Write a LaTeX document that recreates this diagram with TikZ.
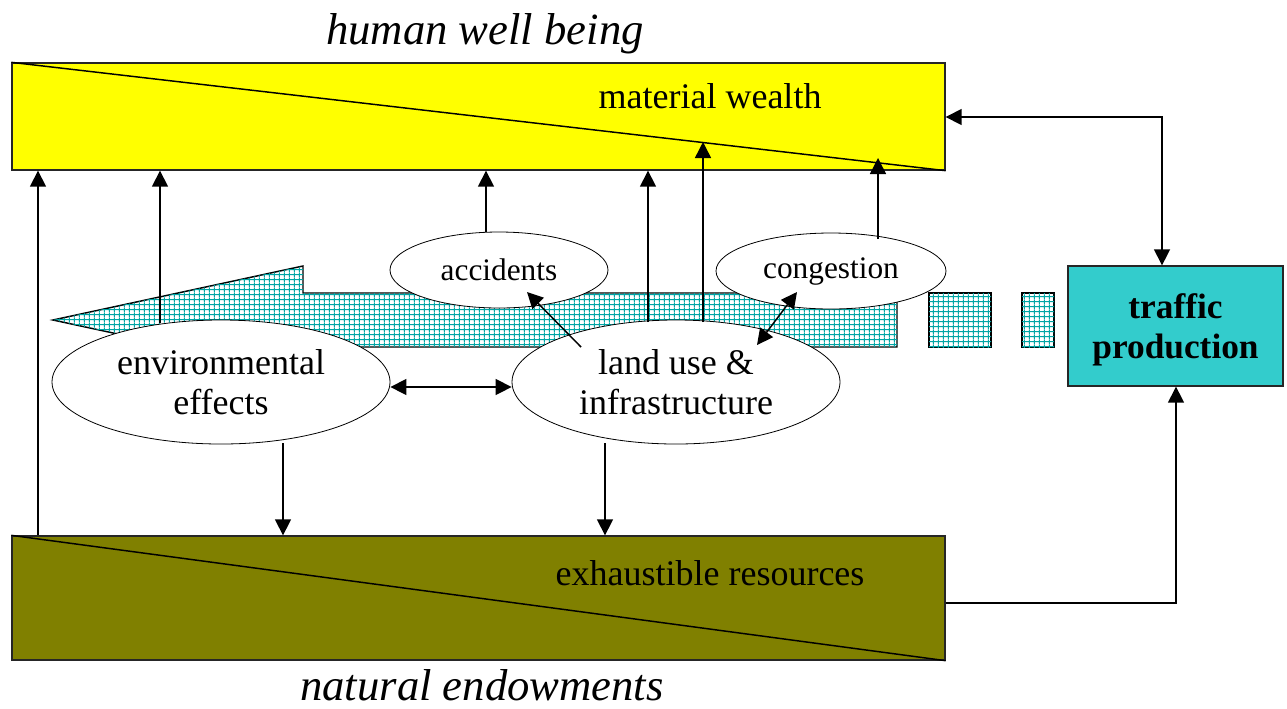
\documentclass[tikz,border=0pt]{standalone}
\usepackage{fontspec}
\setmainfont{Liberation Serif}
\usetikzlibrary{arrows.meta,shapes.geometric,patterns.meta}
\definecolor{wealthyellow}{RGB}{255,255,0}
\definecolor{endowolive}{RGB}{128,128,0}
\definecolor{traffcyan}{RGB}{51,204,204}
\definecolor{gridteal}{RGB}{0,165,165}
\tikzdeclarepattern{
  name=tgrid,
  type=colored,
  bottom left={(0pt,0pt)},
  top right={(3.6pt,3.6pt)},
  tile size={(3.6pt,3.6pt)},
  code={
    \draw[gridteal,line width=0.8pt] (0pt,1.8pt) -- (3.6pt,1.8pt) (1.8pt,0pt) -- (1.8pt,3.6pt);
  }
}
\tikzset{
  arr/.style={line width=1.1pt,-{Triangle[length=12pt,width=12pt]}},
  darr/.style={line width=1.1pt,{Triangle[length=12pt,width=12pt]}-{Triangle[length=12pt,width=12pt]}},
  bigbox/.style={rectangle,draw=black!85,line width=1pt,inner sep=0pt},
  ell/.style={ellipse,draw,fill=white,line width=0.6pt,inner sep=0pt,align=center},
  gridshape/.style={fill=white,postaction={pattern=tgrid},draw,line width=1.1pt},
  txt27/.style={font=\fontsize{27}{30}\selectfont},
  txt23/.style={font=\fontsize{23.5}{26}\selectfont},
  ttl/.style={font=\fontsize{33.5}{36}\selectfont\itshape,inner sep=0pt},
}
\begin{document}
\begin{tikzpicture}[x=0.75pt,y=-0.75pt]
\useasboundingbox (0,0) rectangle (1287,708);

% titles
\node[ttl] (hwb) at (485,34) {human well being};
\node[ttl,anchor=base,text depth=0pt] (ne) at (482,700) {natural endowments};

% big boxes
\node[bigbox,fill=wealthyellow,minimum width=699.75pt,minimum height=80.25pt] (wealth) at (478.5,116.5) {};
\draw[line width=1.1pt] (wealth.north west) -- (wealth.south east);
\node[txt27] (wealthlbl) at (710,96) {material wealth};

\node[bigbox,fill=endowolive,minimum width=699.75pt,minimum height=93pt] (res) at (478.5,598) {};
\draw[line width=1.1pt] (res.north west) -- (res.south east);
\node[txt27] (reslbl) at (710,573) {exhaustible resources};

\node[bigbox,fill=traffcyan,minimum width=161.25pt,minimum height=90pt] (traffic) at (1175.5,326) {};
\node[align=center,font=\fontsize{26.5}{30}\selectfont\bfseries] (trafficlbl) at (1175.5,330) {traffic\\production};

% hatched arrow and blocks
\draw[gridshape] (53,320) -- (303,266) -- (303,293) -- (897,293) -- (897,347) -- (303,347) -- (303,374) -- cycle;
\draw[gridshape] (929,293) rectangle (991,347);
\draw[gridshape] (1022,293) rectangle (1054,347);

% ellipses
\node[ell,txt27,minimum width=253.5pt,minimum height=93pt] (env) at (221,382) {environmental\\effects};
\node[ell,txt27,minimum width=246pt,minimum height=93pt] (land) at (676,382) {land use \&\\infrastructure};
\node[ell,txt23,minimum width=163.5pt,minimum height=57pt] (acc) at (499,270) {accidents};
\node[ell,txt23,minimum width=172.5pt,minimum height=57pt] (cong) at (831,271) {congestion};

% upward arrows to material wealth
\draw[arr] (res.north -| 38,0) -- (wealth.south -| 38,0);
\coordinate (envtop) at (160,323);
\draw[arr] (envtop) -- (wealth.south -| 160,0);
\draw[arr] (acc.north -| 486,0) -- (wealth.south -| 486,0);
\coordinate (landtopa) at (648,322);
\draw[arr] (landtopa) -- (wealth.south -| 648,0);
\coordinate (landtopb) at (703,322);
\coordinate (diagA) at (703,142);
\draw[arr] (landtopb) -- (diagA);
\coordinate (congtop) at (878,239);
\coordinate (diagB) at (878,158);
\draw[arr] (congtop) -- (diagB);

% links between ellipses
\draw[darr] (env.east |- 0,387) -- (land.west |- 0,387);
\coordinate (landacc) at (581,347);
\coordinate (acctip) at (527,292);
\draw[arr] (landacc) -- (acctip);
\coordinate (landcong) at (757,345);
\coordinate (congbot) at (797,292);
\draw[darr] (landcong) -- (congbot);

% downward arrows to resources
\draw[arr] (283,443) -- (res.north -| 283,0);
\draw[arr] (605,443) -- (res.north -| 605,0);

% traffic production links
\draw[darr] (wealth.east |- 0,117) -- (1162,117) -- (traffic.north -| 1162,0);
\draw[arr] (res.east |- 0,603) -- (1176,603) -- (traffic.south -| 1176,0);
\end{tikzpicture}
\end{document}
